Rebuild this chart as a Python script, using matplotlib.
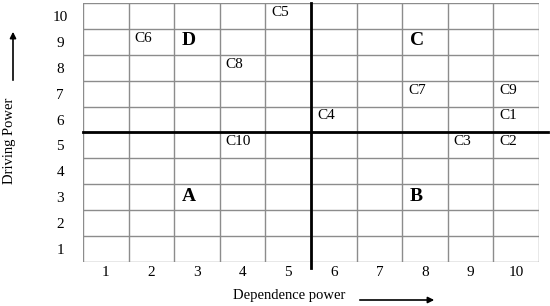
import matplotlib.pyplot as plt

# factor positions on the grid: (dependence, driving)
factors = ['C1', 'C2', 'C3', 'C4', 'C5', 'C6', 'C7', 'C8', 'C9', 'C10']
dependence = [10, 10, 9, 6, 5, 2, 8, 4, 10, 4]
driving = [6, 5, 5, 6, 10, 9, 7, 8, 7, 5]

# quadrant letters
quadrants = ['A', 'B', 'C', 'D']
quad_x = [3, 8, 8, 3]
quad_y = [3, 3, 9, 9]

ticks = list(range(1, 11))

plt.rcParams['font.family'] = ['Liberation Serif', 'DejaVu Serif']

fig = plt.figure(figsize=(5.5, 3.06), dpi=100)
ax = fig.add_axes([83/550, 1-262/306, 456/550, 259/306])

# grid
for v in range(0, 11):
    ax.axvline(v + 0.5, color='#8c8c8c', lw=1)
    ax.axhline(v + 0.5, color='#8c8c8c', lw=1)

# quadrant dividers
ax.plot([0.5, 10.7], [5.5, 5.5], color='black', lw=2, clip_on=False)
ax.plot([5.5, 5.5], [10.5, 0.27], color='black', lw=2, clip_on=False)

for name, x, y in zip(factors, dependence, driving):
    ax.text(x - 0.5 + 0.13, y + 0.5 - 0.36, name, fontsize=11, ha='left', va='center')

for name, x, y in zip(quadrants, quad_x, quad_y):
    ax.text(x - 0.5 + 0.17, y + 0.04, name, fontsize=14, fontweight='bold', ha='left', va='center')

ax.set_xlim(0.5, 10.5)
ax.set_ylim(0.5, 10.5)
ax.set_xticks(ticks)
ax.set_yticks(ticks)
ax.tick_params(length=0, labelsize=11)
ax.tick_params(axis='y', pad=16.5)
ax.tick_params(axis='x', pad=3)
for lab in ax.get_yticklabels():
    lab.set_horizontalalignment('center')
for s in ax.spines.values():
    s.set_visible(False)

fig.text(289/550, 1-295/306, 'Dependence power', fontsize=10.5, ha='center', va='center')
fig.text(10/550, 1-141/306, 'Driving Power', fontsize=10.5, ha='center', va='center', rotation=90)

fig.patches.append(plt.matplotlib.patches.FancyArrowPatch(
    (357/550, 1-300/306), (437/550, 1-300/306), transform=fig.transFigure,
    arrowstyle='-|>', mutation_scale=9, color='black', lw=1.2))
fig.patches.append(plt.matplotlib.patches.FancyArrowPatch(
    (13/550, 1-83/306), (13/550, 1-29/306), transform=fig.transFigure,
    arrowstyle='-|>', mutation_scale=9, color='black', lw=1.2))

fig.savefig('out.png', dpi=100)
